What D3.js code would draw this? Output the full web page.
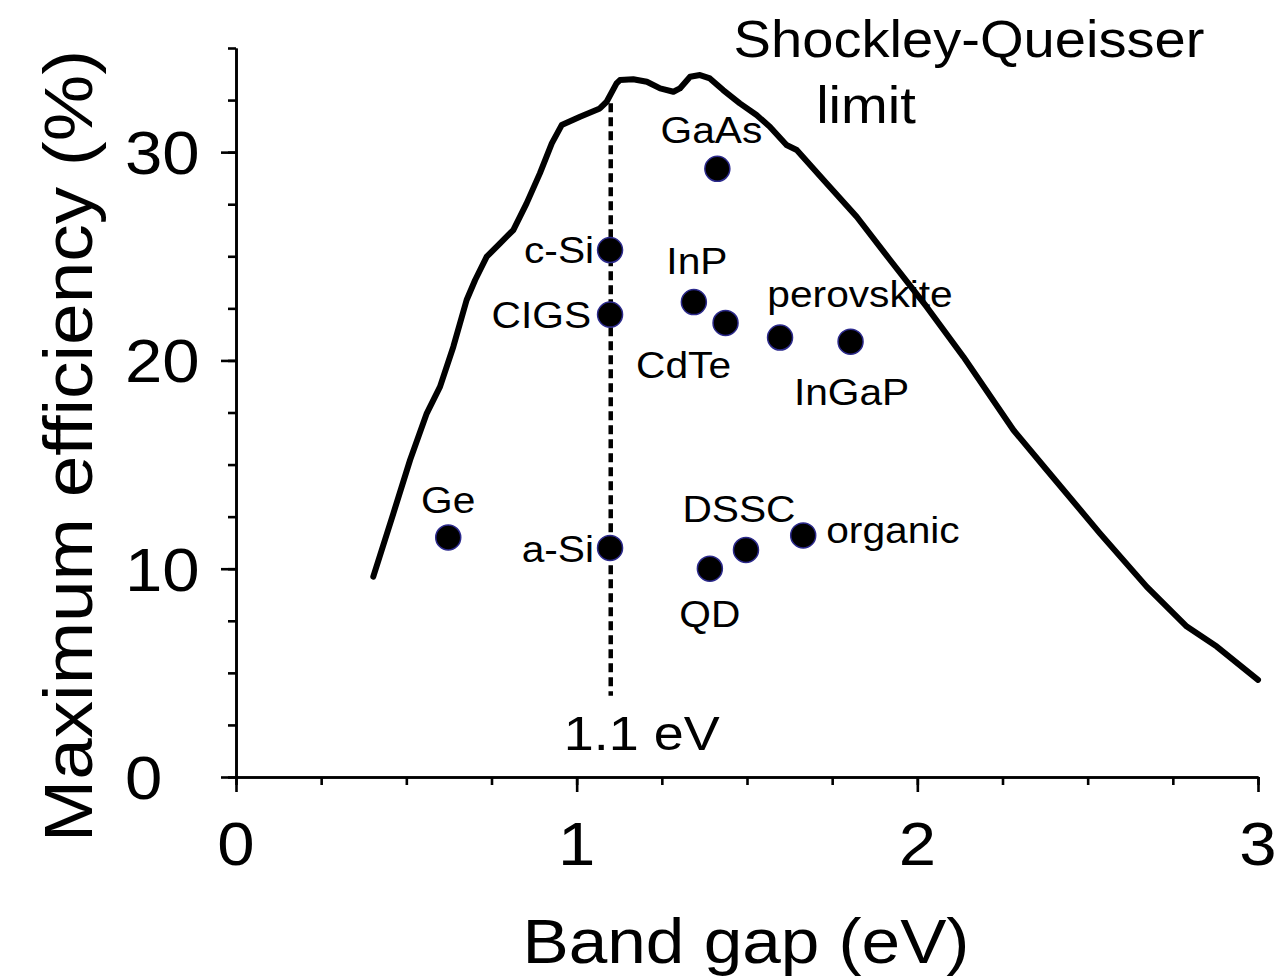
<!DOCTYPE html>
<html><head><meta charset="utf-8">
<script src="https://cdn.jsdelivr.net/npm/d3@7"></script>
<style>
body{margin:0;background:#fff}
text{font-family:"Liberation Sans",Arial,sans-serif;fill:#000}
</style>
</head><body>
<svg id="chart" width="1288" height="976"></svg>
<script>
// ---- data ----
const sqBandGap = [0.403,0.462,0.511,0.560,0.599,0.638,0.677,0.702,0.736,0.775,0.814,0.853,0.892,0.927,0.956,1.010,1.068,1.088,1.117,1.127,1.166,1.206,1.245,1.284,1.303,1.333,1.362,1.391,1.430,1.479,1.528,1.567,1.616,1.646,1.734,1.822,1.920,2.027,2.135,2.282,2.380,2.536,2.673,2.791,2.879,3.000];
const sqEfficiency = [9.62,12.66,15.22,17.46,18.74,20.66,22.90,23.86,24.98,25.62,26.26,27.54,28.98,30.42,31.30,31.70,32.10,32.42,33.30,33.46,33.50,33.38,33.06,32.90,33.06,33.62,33.70,33.54,32.98,32.34,31.78,31.22,30.34,30.10,28.50,26.90,24.82,22.58,20.18,16.66,14.74,11.70,9.14,7.22,6.26,4.66];

const materials = ["GaAs","c-Si","CIGS","a-Si","Ge","InP","CdTe","perovskite","InGaP","DSSC","organic","QD"];
const materialGap = [1.413,1.098,1.098,1.098,0.623,1.344,1.437,1.597,1.804,1.497,1.665,1.391];
const materialEff = [29.2,25.3,22.2,11.0,11.5,22.8,21.8,21.1,20.9,10.9,11.6,10.0];

const xMajorTicks = [0,1,2,3];
const xMinorTicks = d3.range(0,3.001,0.25);
const yMajorTicks = [0,10,20,30];
const yMinorTicks = d3.range(0,35.001,2.5);

const refGap = 1.1;
const refTop = 32.35, refBottom = 3.9;
const refLabel = "1.1 eV";
const xTitle = "Band gap (eV)";
const yTitle = "Maximum efficiency (%)";
const sqTitle = ["Shockley-Queisser","limit"];

// ---- layout (pixels) ----
const x = d3.scaleLinear().domain([0,3]).range([236,1258]);
const y = d3.scaleLinear().domain([0,35]).range([777,48]);
const STRETCH = 1.1;
// label placement relative to marker: [anchor, dx, dy]
const labelLayout = {
  "GaAs":["middle",-6,-26], "c-Si":["end",-16,13], "CIGS":["end",-19,13],
  "a-Si":["end",-16,14], "Ge":["middle",0,-24], "InP":["middle",3,-28],
  "CdTe":["middle",-42,55], "perovskite":["middle",80,-31], "InGaP":["middle",1,63],
  "DSSC":["middle",-7,-28], "organic":["start",23,8], "QD":["middle",0,58]
};

const svg = d3.select("#chart");

function txt(g, px, py, s, size, anchor, rot){
  return g.append("text")
    .attr("transform", `translate(${px},${py})` + (rot?` rotate(${rot})`:"") + ` scale(${STRETCH},1)`)
    .attr("text-anchor", anchor || "middle")
    .style("font-size", size+"px")
    .text(s);
}

// axes
const axStroke = 2.6;
const gx = svg.append("g").attr("transform",`translate(0,${y(0)})`);
gx.call(d3.axisBottom(x).tickValues(xMinorTicks).tickSize(8).tickSizeOuter(0).tickFormat(""));
gx.append("g").call(d3.axisBottom(x).tickValues(xMajorTicks).tickSize(15).tickSizeOuter(0).tickFormat(""));
const gy = svg.append("g").attr("transform",`translate(${x(0)},0)`);
gy.call(d3.axisLeft(y).tickValues(yMinorTicks).tickSize(8).tickSizeOuter(0).tickFormat(""));
gy.append("g").call(d3.axisLeft(y).tickValues(yMajorTicks).tickSize(15).tickSizeOuter(0).tickFormat(""));
svg.selectAll(".domain, .tick line").attr("stroke","#000").attr("stroke-width",axStroke);

// tick labels
yMajorTicks.forEach(v => txt(svg, 125, y(v)+22, String(v), 61, "start"));
xMajorTicks.forEach(v => txt(svg, x(v), 865, String(v), 61, "middle"));

// axis titles
txt(svg, 746, 963, xTitle, 63, "middle");
txt(svg, 92, 446, yTitle, 68, "middle", -90);

// SQ curve
const sq = sqBandGap.map((g,i)=>[g, sqEfficiency[i]]);
svg.append("path").datum(sq)
  .attr("d", d3.line().x(d=>x(d[0])).y(d=>y(d[1])))
  .attr("fill","none").attr("stroke","#000").attr("stroke-width",6)
  .attr("stroke-linejoin","round").attr("stroke-linecap","round");

// reference dashed line
svg.append("line")
  .attr("x1",x(refGap)).attr("x2",x(refGap)).attr("y1",y(refTop)).attr("y2",y(refBottom))
  .attr("stroke","#000").attr("stroke-width",4.5).attr("stroke-dasharray","9,5");
txt(svg, x(refGap)+31, 750, refLabel, 49, "middle");

// SQ title
txt(svg, 969, 57, sqTitle[0], 51, "middle");
txt(svg, 866, 123, sqTitle[1], 51, "middle");

// markers
materials.forEach((m,i)=>{
  const px = x(materialGap[i]), py = y(materialEff[i]);
  svg.append("circle").attr("cx",px).attr("cy",py).attr("r",12.5)
    .attr("fill","#000").attr("stroke","#2c2a8c").attr("stroke-width",1.5);
  const L = labelLayout[m];
  txt(svg, px+L[1], py+L[2], m, 37, L[0]);
});
</script>
</body></html>
